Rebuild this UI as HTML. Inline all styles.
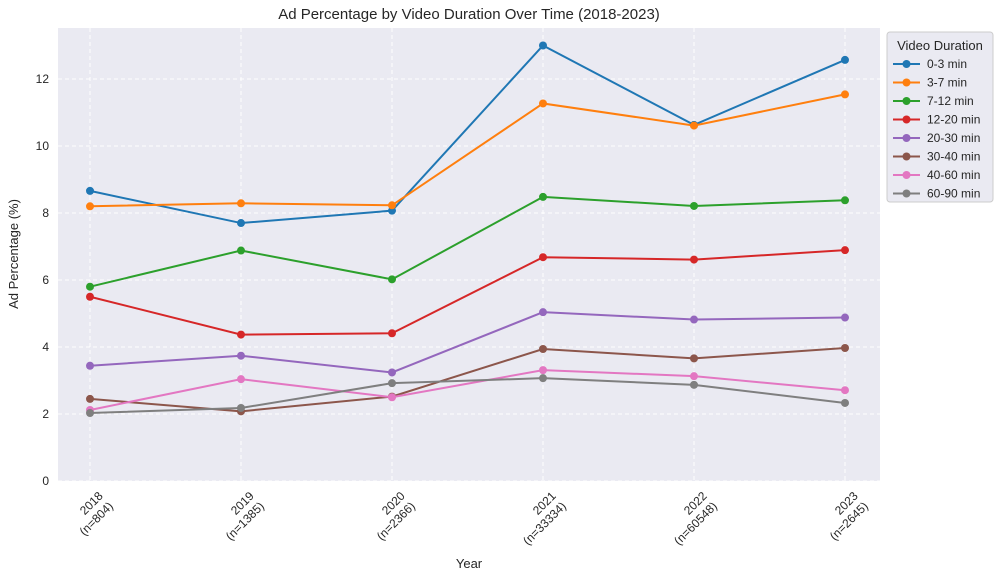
<!DOCTYPE html>
<html><head><meta charset="utf-8"><style>
body{margin:0;background:#fff;font-family:"Liberation Sans","DejaVu Sans",sans-serif;}
svg text{font-family:"Liberation Sans","DejaVu Sans",sans-serif;fill:#262626;}
</style></head><body>
<svg id="chart" width="1000" height="578" viewBox="0 0 1000 578" xmlns="http://www.w3.org/2000/svg"></svg>
<script>
const years=["2018","2019","2020","2021","2022","2023"];
const counts=["n=804","n=1385","n=2366","n=33334","n=60548","n=2645"];
const yTicks=[0,2,4,6,8,10,12];
const seriesNames=["0-3 min","3-7 min","7-12 min","12-20 min","20-30 min","30-40 min","40-60 min","60-90 min"];
const s0=[8.66,7.70,8.07,13.0,10.63,12.57];
const s1=[8.20,8.29,8.23,11.27,10.61,11.54];
const s2=[5.80,6.88,6.02,8.48,8.21,8.38];
const s3=[5.50,4.37,4.41,6.68,6.61,6.89];
const s4=[3.44,3.74,3.24,5.04,4.82,4.88];
const s5=[2.45,2.08,2.52,3.94,3.66,3.97];
const s6=[2.12,3.04,2.50,3.31,3.13,2.71];
const s7=[2.03,2.18,2.92,3.07,2.87,2.33];
const seriesValues=[s0,s1,s2,s3,s4,s5,s6,s7];
const colors=["#1f77b4","#ff7f0e","#2ca02c","#d62728","#9467bd","#8c564b","#e377c2","#7f7f7f"];
const NS="http://www.w3.org/2000/svg";
const svg=document.getElementById("chart");
const L=58,R=880,T=28,B=481;
const xs=i=>90+i*(845-90)/(years.length-1);
const ys=v=>B-v*33.5;
function el(tag,attrs,parent){const e=document.createElementNS(NS,tag);for(const k in attrs)e.setAttribute(k,attrs[k]);(parent||svg).appendChild(e);return e;}
const bg=el("rect",{x:L,y:T,width:R-L,height:B-T,fill:"#eaeaf2"});


yTicks.forEach(v=>{
 const g=el("line",{x1:L,x2:R,y1:ys(v),y2:ys(v),stroke:"#fff","stroke-dasharray":"4,3","stroke-width":1});
 
 
 const t=el("text",{x:L-9,y:ys(v)+4,"text-anchor":"end","font-size":12});
 t.textContent=v;
 
 
});
years.forEach((y,i)=>{
 const g=el("line",{x1:xs(i),x2:xs(i),y1:T,y2:B,stroke:"#fff","stroke-dasharray":"4,3","stroke-width":1});
 
 
 const t=el("text",{transform:`translate(${xs(i)+6},${B+8}) rotate(-45)`,"text-anchor":"end","font-size":12});
 
 
 const a=el("tspan",{x:0,dy:"0.9em"},t);a.textContent=y;
 const b=el("tspan",{x:0,dy:"1.2em"},t);b.textContent="("+counts[i]+")";
});
seriesValues.forEach((vals,si)=>{
 const p=el("polyline",{points:vals.map((v,i)=>xs(i)+","+ys(v)).join(" "),fill:"none",stroke:colors[si],"stroke-width":2});
 
 
 vals.forEach((v,i)=>{
  const c=el("circle",{cx:xs(i),cy:ys(v),r:4,fill:colors[si]});
  
  
 });
});
const title=el("text",{x:469,y:19,"text-anchor":"middle","font-size":15});
title.textContent="Ad Percentage by Video Duration Over Time (2018-2023)";


const xt=el("text",{x:469,y:568,"text-anchor":"middle","font-size":13});
xt.textContent="Year";


const yt=el("text",{transform:"translate(18,254) rotate(-90)","text-anchor":"middle","font-size":13});
yt.textContent="Ad Percentage (%)";


const lg=el("rect",{x:887,y:32,width:106,height:170,fill:"#eaeaf2",stroke:"#ccc",rx:3});


const lt=el("text",{x:940,y:50,"text-anchor":"middle","font-size":13});
lt.textContent="Video Duration";


seriesNames.forEach((n,i)=>{
 const y=64+i*18.5;
 const ln=el("line",{x1:893,x2:920,y1:y,y2:y,stroke:colors[i],"stroke-width":2});
 
 
 const c=el("circle",{cx:906.5,cy:y,r:4,fill:colors[i]});
 
 
 const t=el("text",{x:927,y:y+4,"font-size":12});
 t.textContent=n;
 
 
});
</script>
</body></html>
